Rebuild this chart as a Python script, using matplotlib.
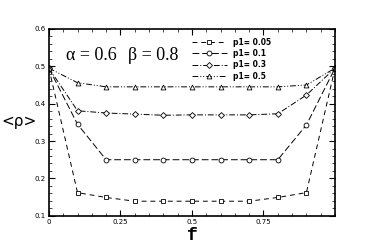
import matplotlib
matplotlib.use("Agg")
import matplotlib.pyplot as plt
from matplotlib.ticker import MultipleLocator, FixedLocator

f = [0.0, 0.1, 0.2, 0.3, 0.4, 0.5, 0.6, 0.7, 0.8, 0.9, 1.0]
p005 = [0.495, 0.162, 0.149, 0.139, 0.139, 0.139, 0.139, 0.139, 0.149, 0.162, 0.495]
p01 = [0.495, 0.345, 0.25, 0.25, 0.25, 0.25, 0.25, 0.25, 0.25, 0.343, 0.495]
p03 = [0.495, 0.381, 0.375, 0.372, 0.369, 0.37, 0.37, 0.37, 0.373, 0.423, 0.495]
p05 = [0.495, 0.456, 0.445, 0.445, 0.445, 0.445, 0.445, 0.445, 0.445, 0.45, 0.495]
labels = ["p1= 0.05", "p1= 0.1", "p1= 0.3", "p1= 0.5"]

fig = plt.figure(figsize=(3.82, 2.43), dpi=100)
ax = fig.add_axes([0.128, 0.112, 0.749, 0.769])

styles = [
    dict(marker='s', ls=(0, (5, 4))),
    dict(marker='o', ls=(0, (7, 3))),
    dict(marker='D', ls=(0, (6, 2, 1, 2))),
    dict(marker='^', ls=(0, (6, 2, 1, 2, 1, 2))),
]
for ys, lab, st in zip([p005, p01, p03, p05], labels, styles):
    ax.plot(f, ys, color='black', lw=0.7, ls=st['ls'], marker=st['marker'],
            markersize=3.5 if st['marker'] != 'D' else 3, mfc='white', mec='black', mew=0.6, label=lab)

ax.set_xlim(0, 1.0)
ax.set_ylim(0.1, 0.6)
ax.xaxis.set_major_locator(FixedLocator([0, 0.25, 0.5, 0.75]))
ax.xaxis.set_minor_locator(MultipleLocator(0.05))
ax.yaxis.set_major_locator(MultipleLocator(0.1))
ax.yaxis.set_minor_locator(MultipleLocator(0.02))
ax.set_xticklabels(['0', '0.25', '0.5', '0.75'])
ax.tick_params(which='both', direction='in', top=True, right=True, labelsize=5, pad=2)
ax.tick_params(which='major', length=4, width=0.8)
ax.tick_params(which='minor', length=2, width=0.5)
for s in ax.spines.values():
    s.set_linewidth(1.2)

ax.text(0.06, 0.53, 'α = 0.6', fontsize=13, family='Liberation Serif', va='center')
ax.text(0.275, 0.53, 'β = 0.8', fontsize=13, family='Liberation Serif', va='center')

fig.text(0.003, 0.5, '<ρ>', fontsize=11, family='DejaVu Sans', va='center', ha='left')
ax.set_xlabel('f', fontsize=13, fontweight='bold', family='Liberation Mono', labelpad=2)

leg = ax.legend(loc='upper right', frameon=False, prop=dict(weight='bold', size=5.5),
                handlelength=4.5, labelspacing=0.3, bbox_to_anchor=(0.8, 0.99))

fig.savefig('out.png', dpi=100)
